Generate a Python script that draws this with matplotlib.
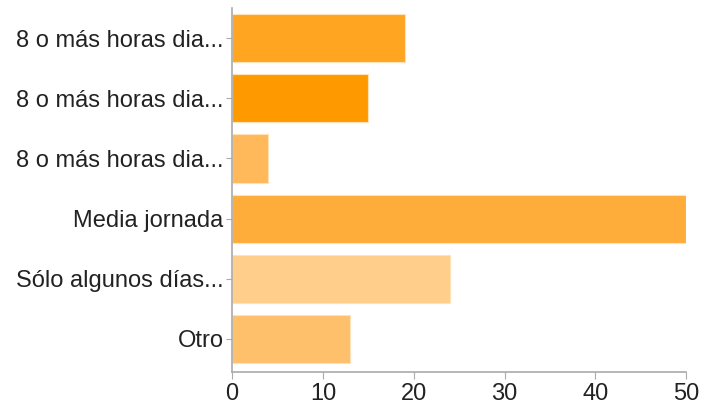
import matplotlib.pyplot as plt
import numpy as np

plt.rcParams['font.family'] = ['Liberation Sans', 'DejaVu Sans']

categorias = ['8 o más horas dia...', '8 o más horas dia...', '8 o más horas dia...',
              'Media jornada', 'Sólo algunos días...', 'Otro']
valores = [19, 15, 4, 50, 24, 13]
colores = ['#ffa521', '#ff9900', '#ffb85a', '#ffad3a', '#ffce8b', '#ffc06b']

fig = plt.figure(figsize=(7.01, 4.07), dpi=100)
ax = fig.add_axes([0.331, 0.086, 0.648, 0.894])

y = np.arange(len(categorias))
ax.barh(y, valores, height=0.8, color=colores, edgecolor='#ffe2b8', linewidth=0.8)

ax.set_xlim(0, 50)
ax.set_ylim(5.55, -0.5)
ax.set_yticks(y)
ax.set_yticklabels(categorias)
ax.set_xticks([0, 10, 20, 30, 40, 50])

for s in ['top', 'right']:
    ax.spines[s].set_visible(False)
for s in ['left', 'bottom']:
    ax.spines[s].set_color('#aaaaaa')
    ax.spines[s].set_linewidth(1.2)
ax.tick_params(axis='both', colors='#aaaaaa', labelcolor='#222222', labelsize=17)
ax.tick_params(axis='y', length=4, pad=2)
ax.tick_params(axis='x', length=5, pad=3)

fig.savefig('out.png', dpi=100)
